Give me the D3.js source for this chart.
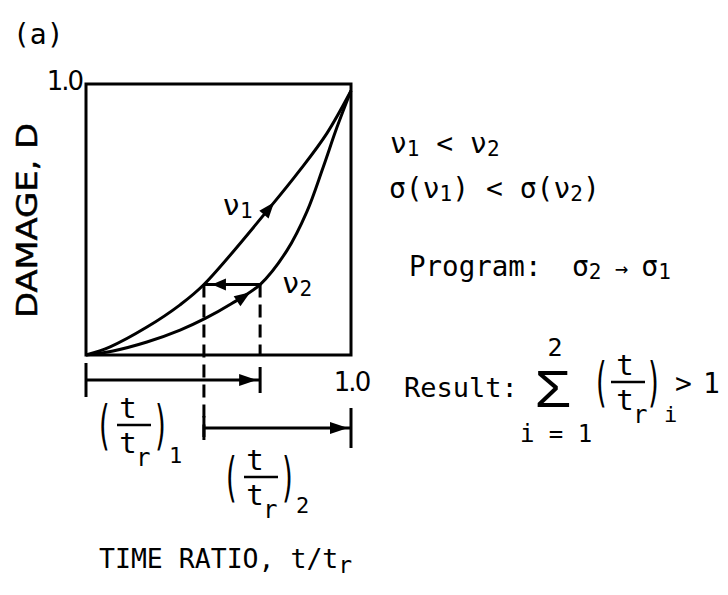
<!DOCTYPE html>
<html>
<head>
<meta charset="utf-8">
<script src="https://cdn.jsdelivr.net/npm/d3@7"></script>
<style>
body { margin: 0; background: #fff; }
svg { display: block; }
text { fill: #000; }
.mono { font-family: "DejaVu Sans Mono", monospace; }
</style>
</head>
<body>
<svg id="chart" width="728" height="595"></svg>
<script>
// damage vs time ratio: [t/tr, D]
const curveV1 = [[0, 0], [0.091, 0.030], [0.230, 0.103], [0.355, 0.185], [0.445, 0.26], [0.702, 0.554], [0.808, 0.683], [0.909, 0.818], [1, 0.975]]
const curveV2 = [[0, 0], [0.102, 0.015], [0.230, 0.048], [0.355, 0.092], [0.45, 0.135], [0.55, 0.19], [0.657, 0.26], [0.758, 0.385], [0.834, 0.53], [0.894, 0.69], [0.947, 0.84], [1, 0.975]]

// program sigma2 -> sigma1: switch point on v2 curve, then jump to the same D on v1
const switchT1 = 0.657
const switchD = 0.26
const switchT2 = 0.445

// tick labels
const yTicks = [1]
const xTicks = [1]

// where the direction arrows sit on each curve (t/tr)
const arrowT = { v1: 0.71, v2: 0.62 }

const svg = d3.select("#chart")
const x = d3.scaleLinear().domain([0, 1]).range([86, 351])
const y = d3.scaleLinear().domain([0, 1]).range([355, 84])

// frame
svg.append("rect")
    .attr("x", x(0)).attr("y", y(1))
    .attr("width", x(1) - x(0)).attr("height", y(0) - y(1))
    .attr("fill", "none").attr("stroke", "#000").attr("stroke-width", 3)

// "1.0" labels through the axes
let yAxis = d3.axisLeft(y).tickValues(yTicks).tickFormat(d3.format(".1f")).tickSize(0).tickPadding(4)
svg.append("g").attr("transform", "translate(" + x(0) + ",0)").call(yAxis)
    .call(g => g.select(".domain").remove())
    .selectAll("text").attr("dy", "0.2em")
let xAxis = d3.axisBottom(x).tickValues(xTicks).tickFormat(d3.format(".1f")).tickSize(0).tickPadding(18)
svg.append("g").attr("transform", "translate(0," + y(0) + ")").call(xAxis)
    .call(g => g.select(".domain").remove())
svg.selectAll(".tick text")
    .attr("font-family", "DejaVu Sans").attr("font-size", 26).attr("letter-spacing", -2).attr("fill", "#000")

// curves
let line = d3.line().x(d => x(d[0])).y(d => y(d[1])).curve(d3.curveCatmullRom.alpha(0.5))
let pathV1 = svg.append("path").datum(curveV1).attr("d", line)
    .attr("fill", "none").attr("stroke", "#000").attr("stroke-width", 3)
let pathV2 = svg.append("path").datum(curveV2).attr("d", line)
    .attr("fill", "none").attr("stroke", "#000").attr("stroke-width", 3)

function pointAtX(node, px){
    let total = node.getTotalLength()
    let lo = 0, hi = total
    for(let i = 0; i < 40; i++){
        let mid = (lo + hi) / 2
        if(node.getPointAtLength(mid).x < px) lo = mid
        else hi = mid
    }
    let p = node.getPointAtLength(lo)
    let a = node.getPointAtLength(Math.max(0, lo - 3))
    let b = node.getPointAtLength(Math.min(total, lo + 3))
    return { x: p.x, y: p.y, angle: Math.atan2(b.y - a.y, b.x - a.x) * 180 / Math.PI }
}

function arrowHead(px, py, angle, len, half){
    svg.append("path")
        .attr("d", "M0,0 L" + (-len) + "," + (-half) + " L" + (-len) + "," + half + " Z")
        .attr("transform", "translate(" + px + "," + py + ") rotate(" + angle + ")")
        .attr("fill", "#000")
}

let p1 = pointAtX(pathV1.node(), x(arrowT.v1))
arrowHead(p1.x, p1.y, p1.angle, 16, 6)
let p2 = pointAtX(pathV2.node(), x(arrowT.v2))
arrowHead(p2.x, p2.y, p2.angle, 16, 6)

// horizontal jump from v2 to v1
svg.append("line")
    .attr("x1", x(switchT1)).attr("x2", x(switchT2))
    .attr("y1", y(switchD)).attr("y2", y(switchD))
    .attr("stroke", "#000").attr("stroke-width", 3)
arrowHead(x(switchT2) + 8, y(switchD), 180, 14, 6)

// dashed drops
let arrowRow1 = y(0) + 25
let arrowRow2 = y(0) + 73
svg.append("line")
    .attr("x1", x(switchT2)).attr("x2", x(switchT2))
    .attr("y1", y(switchD)).attr("y2", arrowRow2 + 9)
    .attr("stroke", "#000").attr("stroke-width", 3).attr("stroke-dasharray", "13,7")
svg.append("line")
    .attr("x1", x(switchT1)).attr("x2", x(switchT1))
    .attr("y1", y(switchD)).attr("y2", y(0))
    .attr("stroke", "#000").attr("stroke-width", 3).attr("stroke-dasharray", "13,7")

// time-ratio spans below the frame
function span(t0, t1, rowY, h0, h1){
    svg.append("line").attr("x1", x(t0)).attr("x2", x(t1)).attr("y1", rowY).attr("y2", rowY)
        .attr("stroke", "#000").attr("stroke-width", 3)
    svg.append("line").attr("x1", x(t0)).attr("x2", x(t0)).attr("y1", rowY - h0).attr("y2", rowY + h0)
        .attr("stroke", "#000").attr("stroke-width", 3)
    svg.append("line").attr("x1", x(t1)).attr("x2", x(t1)).attr("y1", rowY - h1).attr("y2", rowY + h1)
        .attr("stroke", "#000").attr("stroke-width", 3)
    arrowHead(x(t1) - 3, rowY, 0, 18, 6)
}
span(0, switchT1, arrowRow1, 17, 13)
span(switchT2, 1, arrowRow2, 12, 20)

// (t / t_r)_i terms
function fracTerm(cx, cy, o){
    let g = svg.append("g").attr("class", "mono").attr("transform", "translate(" + cx + "," + cy + ")")
    g.append("text").attr("x", o.tx).attr("y", -7).attr("text-anchor", "middle").attr("font-size", 29).text("t")
    g.append("line").attr("x1", -17).attr("x2", 17).attr("y1", 0).attr("y2", 0)
        .attr("stroke", "#000").attr("stroke-width", 2.5)
    g.append("text").attr("x", o.tx).attr("y", 28).attr("text-anchor", "middle").attr("font-size", 29).text("t")
    g.append("text").attr("x", o.rx).attr("y", 41).attr("font-size", 24).text("r")
    g.append("text").attr("transform", "translate(" + o.lp + ",0) scale(0.9,1.75)")
        .attr("text-anchor", "middle").attr("dy", "0.36em").attr("font-size", 30).text("(")
    g.append("text").attr("transform", "translate(" + o.rp + ",0) scale(0.9,1.75)")
        .attr("text-anchor", "middle").attr("dy", "0.36em").attr("font-size", 30).text(")")
    g.append("text").attr("x", o.sx).attr("y", o.sy).attr("font-size", 22).text(o.sub)
}
fracTerm(134, 425, { tx: -6, lp: -30, rp: 27, rx: 2, sx: 35, sy: 38, sub: "1" })
fracTerm(261, 477, { tx: -6, lp: -30, rp: 27, rx: 2, sx: 35, sy: 36, sub: "2" })

// curve labels
function nuLabel(t, d, sub){
    let tx = svg.append("text").attr("class", "mono").attr("x", x(t)).attr("y", y(d)).attr("font-size", 29)
    tx.append("tspan").text("ν")
    tx.append("tspan").attr("font-size", 21).attr("dy", 3).text(sub)
}
nuLabel(0.515, 0.517, "1")
nuLabel(0.74, 0.23, "2")

// title and axis titles
svg.append("text").attr("class", "mono").attr("x", 13).attr("y", 44).attr("font-size", 28).text("(a)")
svg.append("text")
    .attr("transform", "translate(37," + ((y(0) + y(1)) / 2 + 1) + ") rotate(-90)")
    .attr("text-anchor", "middle").attr("font-family", "DejaVu Sans").attr("font-size", 29)
    .attr("stroke", "#000").attr("stroke-width", 0.5)
    .attr("textLength", 195).attr("lengthAdjust", "spacingAndGlyphs")
    .text("DAMAGE, D")
let xt = svg.append("text").attr("class", "mono").attr("x", 99).attr("y", 568).attr("font-size", 26.5)
xt.append("tspan").text("TIME RATIO, t/t")
xt.append("tspan").attr("font-size", 23).attr("dy", 5).text("r")

// right-hand notes
let n1 = svg.append("text").attr("class", "mono").attr("x", 390).attr("y", 153).attr("font-size", 28)
n1.append("tspan").text("ν")
n1.append("tspan").attr("font-size", 21).attr("dy", 3).text("1")
n1.append("tspan").attr("dy", -3).text(" < ν")
n1.append("tspan").attr("font-size", 21).attr("dy", 3).text("2")

let n2 = svg.append("text").attr("class", "mono").attr("x", 389).attr("y", 198).attr("font-size", 28)
n2.append("tspan").text("σ(ν")
n2.append("tspan").attr("font-size", 21).attr("dy", 3).text("1")
n2.append("tspan").attr("dy", -3).text(") < σ(ν")
n2.append("tspan").attr("font-size", 21).attr("dy", 3).text("2")
n2.append("tspan").attr("dy", -3).text(")")

svg.append("text").attr("class", "mono").attr("x", 409).attr("y", 276).attr("font-size", 27.5).text("Program:")
let n3 = svg.append("text").attr("class", "mono").attr("x", 572).attr("y", 276).attr("font-size", 28)
n3.append("tspan").text("σ")
n3.append("tspan").attr("font-size", 21).attr("dy", 3).text("2")
n3.append("tspan").attr("dy", -3).attr("font-size", 22).text(" → ")
n3.append("tspan").text("σ")
n3.append("tspan").attr("font-size", 21).attr("dy", 3).text("1")

svg.append("text").attr("class", "mono").attr("x", 404).attr("y", 397).attr("font-size", 27).text("Result:")
svg.append("text").attr("transform", "translate(553,407) scale(1.15,1)")
    .attr("text-anchor", "middle").attr("font-family", "Liberation Sans").attr("font-size", 52).text("Σ")
svg.append("text").attr("class", "mono").attr("x", 555).attr("y", 356).attr("text-anchor", "middle").attr("font-size", 25).text("2")
svg.append("text").attr("class", "mono").attr("x", 556).attr("y", 442).attr("text-anchor", "middle").attr("font-size", 24).text("i = 1")
fracTerm(628, 382, { tx: -3, lp: -27, rp: 26, rx: 5, sx: 36, sy: 40, sub: "i" })
svg.append("text").attr("class", "mono").attr("x", 675).attr("y", 393).attr("font-size", 28).text(">")
svg.append("text").attr("class", "mono").attr("x", 703).attr("y", 393).attr("font-size", 28).text("1")
</script>
</body>
</html>
